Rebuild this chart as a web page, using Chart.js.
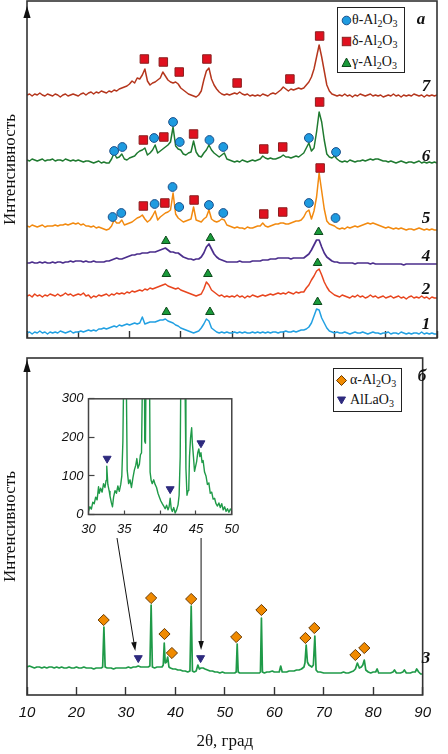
<!DOCTYPE html>
<html><head><meta charset="utf-8">
<script src="https://cdn.jsdelivr.net/npm/chart.js@4.4.1/dist/chart.umd.min.js"></script>
<style>
html,body{margin:0;padding:0;background:#fff;}
#wrap{position:relative;width:448px;height:754px;overflow:hidden;background:#fff;}
canvas{position:absolute;}
.num{position:absolute;font-family:'Liberation Serif','Times New Roman',serif;font-weight:bold;font-style:italic;font-size:17px;color:#111;line-height:1;transform:translate(-50%,-50%);}
.lg{position:absolute;border:1.5px solid #222;background:#fff;box-sizing:border-box;}
.lt{position:absolute;font-family:'Liberation Serif','Times New Roman',serif;font-size:14px;color:#111;line-height:1;white-space:nowrap;transform:translateY(-50%);}
.lt sub{font-size:10px;vertical-align:-3px;line-height:0;}
.mk{position:absolute;overflow:visible;}
</style></head>
<body><div id="wrap">
<canvas id="cTop" width="448" height="340" style="left:0;top:0"></canvas>
<canvas id="cBot" width="448" height="414" style="left:0;top:340px"></canvas>
<canvas id="cIns" width="200" height="160" style="left:50px;top:380px"></canvas>

<div class="lg" style="left:337px;top:7px;width:68px;height:66px"></div>
<svg class="mk" style="left:341px;top:15px" width="11" height="11"><circle cx="5.5" cy="5.5" r="4.3" fill="#1e9be0" stroke="#1b4f8a" stroke-width="1"/></svg>
<div class="lt" style="left:352px;top:20px">θ-Al<sub>2</sub>O<sub>3</sub></div>
<svg class="mk" style="left:341px;top:36px" width="11" height="11"><rect x="1.3" y="1.3" width="8.4" height="8.4" fill="#e0101e" stroke="#8a2020" stroke-width="1"/></svg>
<div class="lt" style="left:352px;top:41px">δ-Al<sub>2</sub>O<sub>3</sub></div>
<svg class="mk" style="left:341px;top:57px" width="11" height="11"><polygon points="5.5,1 10,9.5 1,9.5" fill="#1a9a3a" stroke="#0d4a1c" stroke-width="1"/></svg>
<div class="lt" style="left:352px;top:62px">γ-Al<sub>2</sub>O<sub>3</sub></div>

<div class="lg" style="left:333px;top:368px;width:69px;height:44px"></div>
<svg class="mk" style="left:336px;top:375px" width="11" height="11"><polygon points="5.5,0.5 10.5,5.5 5.5,10.5 0.5,5.5" fill="#f08a00" stroke="#6a3a00" stroke-width="1"/></svg>
<div class="lt" style="left:350px;top:380px">α-Al<sub>2</sub>O<sub>3</sub></div>
<svg class="mk" style="left:337px;top:396px" width="9" height="9"><polygon points="0.5,1 8.5,1 4.5,8" fill="#2e2a7e" stroke="#2e2a7e" stroke-width="1"/></svg>
<div class="lt" style="left:350px;top:400px">AlLaO<sub>3</sub></div>

<div class="num" style="left:421px;top:18px">а</div>
<div class="num" style="left:426px;top:85px">7</div>
<div class="num" style="left:426px;top:155px">6</div>
<div class="num" style="left:426px;top:217px">5</div>
<div class="num" style="left:426px;top:255px">4</div>
<div class="num" style="left:426px;top:288px">2</div>
<div class="num" style="left:426px;top:323px">1</div>
<div class="num" style="left:422px;top:375px">б</div>
<div class="num" style="left:426px;top:657px">3</div>
</div>
<script>
// ---------------- DATA ----------------
const twoTheta = [
 10,10.5,11,11.5,12,12.5,13,13.5,14,14.5,
 15,15.5,16,16.5,17,17.5,18,18.5,19,19.5,
 20,20.5,21,21.5,22,22.5,23,23.5,24,24.5,
 25,25.5,26,26.5,27,27.5,28,28.5,29,29.5,
 30,30.5,31,31.5,32,32.5,33,33.5,34,34.5,
 35,35.5,36,36.5,37,37.5,38,38.5,39,39.5,
 40,40.5,41,41.5,42,42.5,43,43.5,44,44.5,
 45,45.5,46,46.5,47,47.5,48,48.5,49,49.5,
 50,50.5,51,51.5,52,52.5,53,53.5,54,54.5,
 55,55.5,56,56.5,57,57.5,58,58.5,59,59.5,
 60,60.5,61,61.5,62,62.5,63,63.5,64,64.5,
 65,65.5,66,66.5,67,67.5,68,68.5,69,69.5,
 70,70.5,71,71.5,72,72.5,73,73.5,74,74.5,
 75,75.5,76,76.5,77,77.5,78,78.5,79,79.5,
 80,80.5,81,81.5,82,82.5,83,83.5,84,84.5,
 85,85.5,86,86.5,87,87.5,88,88.5,89,89.5,
 90];

// intensities (relative to each pattern's own baseline), panel a
const sample7 = [
 2,3,1,3,2,4,2,1,3,2, 1,3,2,0,2,3,1,2,3,2, 1,3,4,2,4,5,3,5,4,6, 5,4,6,5,7,6,8,9,10,11,
 13,16,14,19,18,22,28,16,12,14, 15,17,19,25,21,17,15,14,15,13, 9,7,5,3,2,1,0,2,6,17, 26,29,18,12,8,5,3,2,3,2,
 3,4,3,5,3,2,3,1,2,1, 2,1,3,2,1,3,4,3,5,7, 10,8,6,8,7,8,9,8,9,12, 15,20,28,40,52,40,26,12,6,3,
 2,1,2,1,3,1,2,0,2,1, 3,2,1,2,3,1,2,1,2,0, 1,2,1,3,1,2,0,2,1,2, 1,3,2,1,2,0,2,1,2,1, 2];
const sample6 = [
 2,1,3,2,1,2,3,1,2,2, 3,1,2,2,1,3,2,1,2,1, 2,1,0,1,1,0,-1,0,1,-1, 0,-1,-1,3,9,4,5,8,3,2,
 4,5,6,9,11,12,14,7,9,12, 17,9,11,13,15,17,20,35,16,13, 12,8,7,9,10,21,10,6,5,9, 12,17,12,9,7,5,7,9,3,2,
 1,0,1,0,2,1,0,1,2,1, 2,3,6,4,3,4,3,3,4,5, 7,5,5,4,5,6,5,7,9,14, 19,11,14,30,50,40,22,8,5,4,
 6,3,1,0,1,0,2,1,0,1, 1,2,1,2,3,2,3,3,2,1, 1,0,1,0,-1,0,1,0,-1,0, 0,-1,0,1,-1,0,-1,0,-1,0, -1];
const sample5 = [
 3,2,4,3,2,3,4,2,3,3, 3,4,3,4,4,5,4,5,6,5, 6,4,5,3,3,2,3,1,2,1, 0,-1,0,3,9,6,6,9,4,5,
 6,7,9,11,12,14,10,7,9,13, 18,9,12,14,16,17,19,36,15,11, 9,7,8,9,10,22,9,8,7,10, 12,19,10,8,7,8,10,9,4,3,
 2,1,2,1,1,0,2,1,1,2, 3,3,6,3,2,3,4,5,5,6, 6,5,5,6,7,8,8,9,12,17, 19,10,18,32,56,38,20,8,5,4,
 3,1,0,1,0,2,1,2,3,2, 3,4,5,6,5,6,5,4,3,2, 1,2,1,0,1,0,1,0,-1,0, 0,-1,0,1,0,-1,0,-1,0,-1, -1];
const sample4 = [
 1,1,2,1,1,2,1,2,1,1, 2,1,2,2,1,2,2,3,2,3, 3,3,2,3,2,2,3,2,2,2, 2,3,3,4,5,6,5,5,6,7,
 8,9,9,10,10,11,11,11,12,12, 12,13,14,15,16,14,12,12,11,11, 9,7,6,5,5,4,5,5,7,11, 17,20,15,10,7,5,4,3,2,2,
 2,2,2,3,2,2,2,2,3,3, 3,3,4,4,4,5,5,5,6,6, 6,6,6,5,6,6,6,6,6,8, 10,14,19,24,24,17,11,7,5,3,
 2,2,1,1,1,1,1,1,0,1, 1,1,1,1,0,1,0,0,0,0, 0,0,0,0,0,0,0,-1,0,0, 0,0,0,0,0,0,0,0,0,0, 0];
const sample2 = [
 1,2,0,3,1,2,0,2,1,3, 2,1,3,1,2,4,2,3,1,2, 3,2,4,1,2,-1,1,0,2,1, 2,3,1,3,2,4,3,4,3,5,
 4,6,5,6,7,6,8,7,9,8, 9,10,11,12,13,11,10,9,8,9, 7,6,5,4,3,2,1,2,3,8, 15,12,7,5,3,1,2,0,1,0,
 1,0,2,0,1,-1,1,0,2,1, 0,1,2,1,2,3,2,3,4,3, 4,3,5,4,3,5,4,5,5,9, 12,17,21,26,28,22,15,10,6,4,
 2,1,0,2,1,0,-1,1,0,2, 0,1,-1,0,2,0,1,-1,0,1, -1,0,1,-1,0,1,-1,0,-2,0, 1,-1,0,-1,1,-1,0,-2,0,-1, -1];
const sample1 = [
 0,1,-1,1,0,2,0,1,-1,1, 0,1,0,2,1,0,1,2,0,1, 1,2,1,2,3,2,3,2,4,4, 5,4,5,6,7,6,8,7,8,9,
 8,9,10,9,10,16,9,10,11,11, 11,12,13,13,14,12,11,10,8,7, 5,4,3,2,1,0,1,2,5,9, 14,12,5,3,1,0,1,0,1,0,
 0,1,0,1,0,1,0,0,1,0, 1,0,1,0,1,0,1,1,0,1, 1,2,1,1,2,1,2,3,3,4, 6,10,17,24,23,15,10,5,2,1,
 0,1,0,0,1,0,-1,0,1,0, 0,1,0,-1,0,1,0,0,-1,0, 0,1,-1,0,0,-1,1,0,-1,0, -1,0,0,-1,1,-1,0,-1,0,-1, -1];

// phase markers, panel a: [2θ, height above pattern baseline]
const theta6 = [[27.0,11],[28.6,15],[34.8,24],[38.5,40],[39.8,20],[45.6,22],[48.3,15],[65.0,24],[70.3,10]];
const theta5 = [[26.7,12],[28.4,16],[34.9,25],[38.4,42],[39.7,22],[45.5,24],[48.3,16],[65.0,26],[70.2,11]];
const delta7 = [[32.9,38],[36.6,35],[39.7,25],[45.1,38],[51.0,14],[61.3,18],[67.1,61]];
const delta6 = [[32.7,22],[36.7,25],[42.5,28],[56.2,13],[59.9,15],[67.1,60]];
const delta5 = [[32.7,23],[36.9,26],[42.6,29],[56.2,15],[59.9,17],[67.2,61]];
const gamma4 = [[37.1,23],[45.8,26],[66.9,32]];
const gamma2 = [[37.2,23],[45.3,23],[66.7,34]];
const gamma1 = [[37.2,21],[45.7,21],[66.7,31]];

// panel б, sample 3: [2θ, intensity above baseline]
const sample3 = [
 [10,8],[10.5,9],[11,8],[11.5,7],[12,8],[12.5,8],[13,7],[13.5,8],[14,7],[14.5,8],
 [15,8],[15.5,7],[16,8],[16.5,7],[17,8],[17.5,7],[18,7],[18.5,8],[19,7],[19.5,7],
 [20,8],[20.5,7],[21,7],[21.5,8],[22,7],[22.5,7],[23,7],[23.5,6],[24,7],[24.5,7],
 [25,7],[25.3,8],[25.55,48],[25.8,8],[26.2,7],[26.6,7],[27,7],[27.5,6],[28,7],[28.5,7],
 [29,7],[29.5,7],[30,7],[30.5,8],[31,7],[31.5,8],[32,8],[32.5,9],[33,8],[33.5,8],
 [34,8],[34.5,8],[34.85,9],[35.1,70],[35.35,8],[35.8,7],[36.3,8],[36.8,8],[37.3,8],[37.55,10],
 [37.75,32],[37.95,12],[38.2,13],[38.45,18],[38.7,8],[39,7],[39.5,6],[40,6],[40.5,5],[41,5],
 [41.5,4],[42,4],[42.5,3],[42.95,4],[43.2,69],[43.45,4],[43.8,3],[44.2,4],[44.55,10],[44.85,6],
 [45.2,7],[45.6,7],[46,6],[46.5,5],[47,4],[47.5,4],[48,3],[48.5,3],[49,2],[49.5,3],
 [50,2],[50.5,2],[51,2],[51.5,2],[52,2],[52.3,3],[52.5,31],[52.7,3],[53,2],[53.5,2],
 [54,2],[54.5,2],[55,2],[55.5,2],[56,2],[56.5,2],[57,2],[57.2,3],[57.4,57],[57.6,3],
 [58,2],[58.5,3],[59,3],[59.6,4],[60,3],[60.5,3],[61,3],[61.3,9],[61.6,3],[62,3],
 [62.5,3],[63,4],[63.5,4],[64,4],[64.5,5],[65,5],[65.5,6],[66,8],[66.2,12],[66.45,30],
 [66.7,13],[67,10],[67.3,9],[67.6,8],[67.9,10],[68.2,39],[68.45,5],[68.8,3],[69.3,3],[70,2],
 [70.5,2],[71,2],[71.5,2],[72,2],[72.5,2],[73,2],[73.5,2],[74,3],[74.5,2],[75,2],
 [75.5,3],[76,4],[76.4,6],[76.8,12],[77.2,7],[77.6,8],[77.9,10],[78.2,15],[78.5,5],[79,3],
 [79.5,2],[80,3],[80.5,3],[80.8,6],[81.1,2],[81.5,2],[82,2],[82.5,2],[83,2],[83.5,2],
 [84,3],[84.3,5],[84.7,2],[85,2],[85.5,2],[86,3],[86.3,5],[86.7,2],[87,2],[87.5,2],
 [88,3],[88.5,3],[88.8,6],[89.2,3],[89.6,1],[90,1]];
const alpha3 = [[25.5,55],[35.1,77],[37.8,41],[39.3,22],[43.2,76],[52.3,38],[57.4,65],[66.3,37],[68.1,47],[76.4,20],[78.2,27]];
const allao3 = [[32.5,17],[45.1,17]];

// inset (counts)
const insetCounts = [
 [30.0,8],[30.2,20],[30.4,14],[30.6,32],[30.8,28],[31.0,45],[31.2,38],[31.4,72],[31.5,55],[31.7,68],
 [31.9,58],[32.1,80],[32.3,70],[32.45,88],[32.55,125],[32.7,78],[32.9,60],[33.0,48],[33.2,30],[33.35,20],
 [33.5,45],[33.7,62],[33.9,55],[34.1,74],[34.3,60],[34.5,78],[34.65,100],[34.8,190],[34.95,420],[35.1,900],
 [35.25,400],[35.4,115],[35.6,80],[35.8,90],[36.0,70],[36.2,95],[36.4,115],[36.6,128],[36.75,145],[36.9,120],
 [37.1,130],[37.25,155],[37.4,160],[37.55,380],[37.7,900],[37.85,190],[37.95,185],[38.1,500],[38.3,800],[38.45,600],
 [38.6,110],[38.75,88],[38.9,80],[39.1,90],[39.3,78],[39.5,70],[39.7,55],[39.9,45],[40.1,35],[40.3,28],
 [40.5,22],[40.7,15],[40.9,24],[41.1,12],[41.25,20],[41.4,42],[41.55,15],[41.7,8],[41.9,18],[42.1,4],
 [42.3,12],[42.5,25],[42.65,50],[42.8,150],[42.95,500],[43.15,900],[43.35,900],[43.5,300],[43.6,120],[43.75,50],
 [43.9,62],[44.0,70],[44.1,150],[44.25,200],[44.4,225],[44.5,185],[44.65,150],[44.8,112],[44.95,125],[45.1,138],
 [45.25,160],[45.4,170],[45.55,150],[45.7,160],[45.85,135],[46.0,140],[46.2,110],[46.4,100],[46.6,78],[46.8,82],
 [47.0,55],[47.2,58],[47.4,40],[47.6,42],[47.8,28],[48.0,22],[48.2,30],[48.4,18],[48.6,28],[48.8,12],
 [49.0,20],[49.2,8],[49.4,15],[49.6,6],[49.8,14],[50.0,10]];
const allaoInset = [[32.6,145],[41.4,66],[45.7,185]];

// arrows from inset to main pattern (chart units of panel б)
const arrowTail = [[28.2,157],[45.2,157]];
const arrowHead = [[31.9,44],[45.2,45]];

const xTicksMain = [10,20,30,40,50,60,70,80,90];
const insetXTicks = [30,35,40,45,50];
const insetYTicks = [0,100,200,300];

// ---------------- LAYOUT / STYLE ----------------
const baseOffset = {s7:241, s6:176, s5:109, s4:74, s2:41, s1:5, s3:20};
const COL = {s7:'#b5361d', s6:'#1f7a30', s5:'#f28a10', s4:'#4b2e8c', s2:'#e8461f', s1:'#22a0e2', s3:'#1f9a48'};

function gridPts(ys, off){ return twoTheta.map((x,i)=>({x:x, y:ys[i]+off})); }
function pairPts(arr, off){ return arr.map(p=>({x:p[0], y:p[1]+off})); }
function lineDS(data, color, w){
  return {data, showLine:true, borderColor:color, borderWidth:w||1.5, pointRadius:0, pointHitRadius:0,
          fill:false, tension:0, borderJoinStyle:'round', order:2};
}
function markDS(data, style, r, fill, stroke, rot){
  return {data, showLine:false, pointStyle:style, pointRadius:r, pointHoverRadius:r,
          pointBackgroundColor:fill, pointBorderColor:stroke, pointBorderWidth:1,
          pointRotation:rot||0, order:0, clip:false};
}
const CIRC = ['circle',4.4,'#1e9be0','#1b4f8a'];
const SQR = ['rect',6.0,'#e0101e','#8a2020'];
const TRI = ['triangle',5.0,'#1a9a3a','#0d4a1c'];
const DIA = ['rectRot',5.6,'#f08a00','#6a3a00'];
const DTRI = ['triangle',4.6,'#2e2a7e','#2e2a7e',180];
function mk(arr, off, s){ return markDS(pairPts(arr,off), s[0], s[1], s[2], s[3], s[4]); }

function framePlugin(arrowGap, lw, col){
  return {id:'frame'+Math.floor(Math.random()*1e6), afterDatasetsDraw(chart){
    const {ctx, chartArea:a} = chart;
    ctx.save();
    ctx.strokeStyle = col; ctx.lineWidth = lw;
    ctx.strokeRect(a.left, a.top, a.right-a.left, a.bottom-a.top);
    if (arrowGap != null){
      ctx.fillStyle = '#111';
      const x=a.left, y=a.top+arrowGap;
      ctx.beginPath(); ctx.moveTo(x,y); ctx.lineTo(x-3.6,y+12); ctx.lineTo(x+3.6,y+12); ctx.closePath(); ctx.fill();
    }
    ctx.restore();
  }};
}
const arrowPlugin = {id:'arrows', afterDatasetsDraw(chart){
  const {ctx} = chart, xs=chart.scales.x, ys=chart.scales.y;
  ctx.save(); ctx.strokeStyle='#111'; ctx.fillStyle='#111'; ctx.lineWidth=1;
  arrowTail.forEach((t,i)=>{
    const h=arrowHead[i];
    const x1=xs.getPixelForValue(t[0]), y1=ys.getPixelForValue(t[1]);
    const x2=xs.getPixelForValue(h[0]), y2=ys.getPixelForValue(h[1]);
    const ang=Math.atan2(y2-y1,x2-x1), L=9, W=2.8;
    const bx=x2-L*Math.cos(ang), by=y2-L*Math.sin(ang);
    ctx.beginPath(); ctx.moveTo(x1,y1); ctx.lineTo(bx,by); ctx.stroke();
    ctx.beginPath(); ctx.moveTo(x2,y2);
    ctx.lineTo(bx+W*Math.sin(ang), by-W*Math.cos(ang));
    ctx.lineTo(bx-W*Math.sin(ang), by+W*Math.cos(ang)); ctx.closePath(); ctx.fill();
  });
  ctx.restore();
}};

const serif = "'Liberation Serif','Times New Roman',serif";
const sans = "'Liberation Sans',Arial,sans-serif";
const base = {responsive:false, animation:false, events:[],
  plugins:{legend:{display:false}, tooltip:{enabled:false}}};

function yTitleScale(max){
  return {type:'linear', min:0, max:max, display:true,
    ticks:{display:false}, grid:{display:false}, border:{display:false},
    title:{display:true, text:'Интенсивность', color:'#111', font:{family:serif, size:17}, padding:0},
    afterFit:s=>{s.width=27;}};
}

// ---------------- PANEL а ----------------
new Chart(document.getElementById('cTop'), {
  type:'scatter',
  data:{datasets:[
    mk(theta6, baseOffset.s6, CIRC), mk(theta5, baseOffset.s5, CIRC),
    mk(delta7, baseOffset.s7, SQR), mk(delta6, baseOffset.s6, SQR), mk(delta5, baseOffset.s5, SQR),
    mk(gamma4, baseOffset.s4, TRI), mk(gamma2, baseOffset.s2, TRI), mk(gamma1, baseOffset.s1, TRI),
    lineDS(gridPts(sample7, baseOffset.s7), COL.s7),
    lineDS(gridPts(sample6, baseOffset.s6), COL.s6),
    lineDS(gridPts(sample5, baseOffset.s5), COL.s5),
    lineDS(gridPts(sample4, baseOffset.s4), COL.s4, 1.7),
    lineDS(gridPts(sample2, baseOffset.s2), COL.s2),
    lineDS(gridPts(sample1, baseOffset.s1), COL.s1)
  ]},
  options:{...base,
    layout:{autoPadding:false, padding:{left:0, top:1, right:11, bottom:0}},
    scales:{
      x:{type:'linear', min:10, max:90,
        afterBuildTicks:s=>{s.ticks=xTicksMain.map(v=>({value:v}));},
        ticks:{display:false},
        grid:{display:true, drawOnChartArea:false, drawTicks:true, tickLength:-7, tickColor:'#333', tickWidth:1.4},
        border:{display:false},
        afterFit:s=>{s.height=2;}},
      y:yTitleScale(337)
    }},
  plugins:[framePlugin(5, 1.6, '#333')]
});

// ---------------- PANEL б ----------------
new Chart(document.getElementById('cBot'), {
  type:'scatter',
  data:{datasets:[
    mk(alpha3, baseOffset.s3, DIA), mk(allao3, baseOffset.s3, DTRI),
    lineDS(pairPts(sample3, baseOffset.s3), COL.s3, 1.7)
  ]},
  options:{...base,
    layout:{autoPadding:false, padding:{left:0, top:18, right:11, bottom:0}},
    scales:{
      x:{type:'linear', min:10, max:90,
        afterBuildTicks:s=>{s.ticks=xTicksMain.map(v=>({value:v}));},
        ticks:{display:true, padding:17, color:'#111', maxRotation:0, autoSkip:false,
          font:{family:sans, size:15, style:'italic'}},
        grid:{display:true, drawOnChartArea:false, drawTicks:true, tickLength:-8, tickColor:'#333', tickWidth:1.4},
        border:{display:false},
        title:{display:true, text:'2θ, град', color:'#111', font:{family:serif, size:17}, padding:{top:0, bottom:2}},
        afterFit:s=>{s.height=59;}},
      y:yTitleScale(337)
    }},
  plugins:[framePlugin(2, 1.6, '#333'), arrowPlugin]
});

// ---------------- INSET ----------------
new Chart(document.getElementById('cIns'), {
  type:'scatter',
  data:{datasets:[
    mk(allaoInset, 0, DTRI),
    lineDS(pairPts(insetCounts, 0), COL.s3, 1.4)
  ]},
  options:{...base,
    layout:{autoPadding:false, padding:{left:0, top:10, right:11.5, bottom:0}},
    scales:{
      x:{type:'linear', min:30, max:50,
        afterBuildTicks:s=>{s.ticks=insetXTicks.map(v=>({value:v}));},
        ticks:{display:true, padding:11, color:'#111', maxRotation:0, autoSkip:false,
          font:{family:sans, size:13, style:'italic'}},
        grid:{display:true, drawOnChartArea:false, drawTicks:true, tickLength:-4, tickColor:'#444', tickWidth:1.2},
        border:{display:false},
        afterFit:s=>{s.height=25.5;}},
      y:{type:'linear', min:0, max:300,
        afterBuildTicks:s=>{s.ticks=insetYTicks.map(v=>({value:v}));},
        ticks:{display:true, padding:11, color:'#111',
          font:{family:sans, size:13, style:'italic'}},
        grid:{display:true, drawOnChartArea:false, drawTicks:true, tickLength:-6, tickColor:'#444', tickWidth:1.2},
        border:{display:false},
        afterFit:s=>{s.width=38.5;}}
    }},
  plugins:[framePlugin(null, 1.5, '#444')]
});
</script>
</body></html>
